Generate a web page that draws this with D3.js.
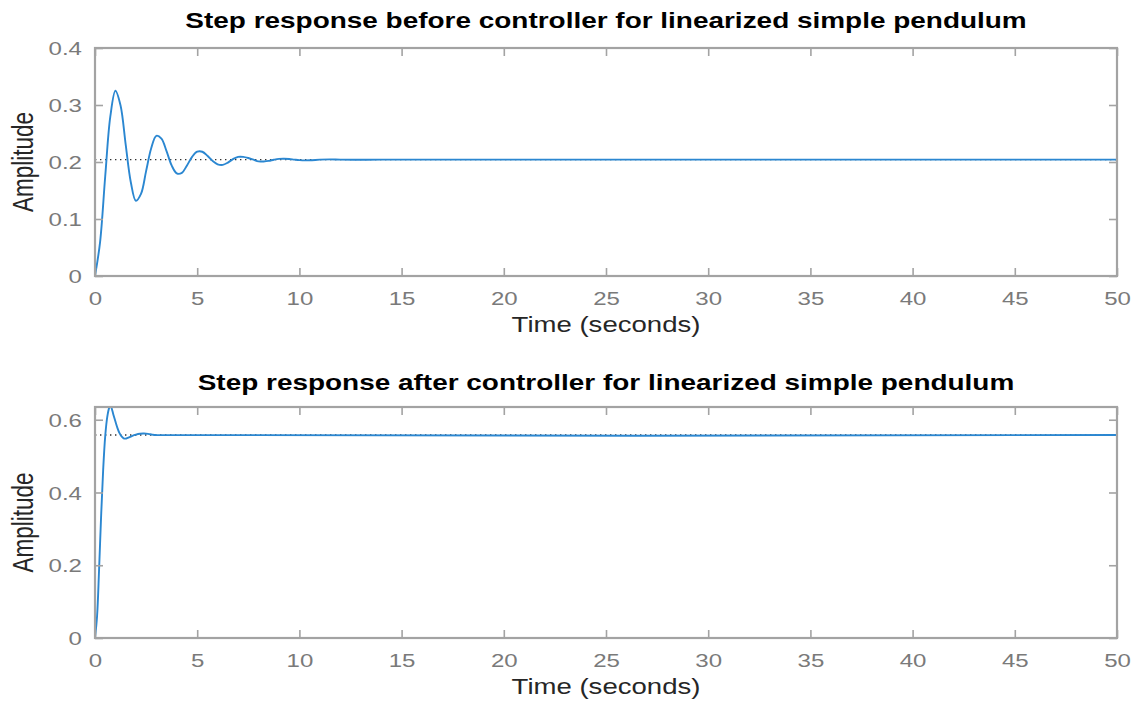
<!DOCTYPE html>
<html>
<head>
<meta charset="utf-8">
<script src="https://cdn.jsdelivr.net/npm/d3@7"></script>
<style>
  html, body { margin: 0; padding: 0; background: #fff; }
  svg { display: block; font-family: "Liberation Sans", Arial, Helvetica, sans-serif; }
</style>
</head>
<body>
<svg id="chart" width="1142" height="702"></svg>
<script>
// Step response of the linearized pendulum, open loop
const timeBefore = [0, 0.25, 0.5, 0.75, 1.0, 1.25, 1.5, 1.75, 2.0, 2.25, 2.5, 2.75, 3.0, 3.25, 3.5, 3.75,
  4.0, 4.25, 4.5, 4.75, 5.0, 5.25, 5.5, 5.75, 6.0, 6.25, 6.5, 6.75, 7.0, 7.25, 7.5, 7.75,
  8.0, 8.25, 8.5, 8.75, 9.0, 9.25, 9.5, 9.75, 10.0, 10.5, 11.0, 11.5, 12.0, 13.0, 14.0, 50.0];
const ampBefore = [0, 0.060, 0.175, 0.280, 0.325, 0.299, 0.231, 0.165, 0.132, 0.144, 0.184, 0.224, 0.246, 0.241, 0.219, 0.194,
  0.180, 0.181, 0.194, 0.209, 0.218, 0.218, 0.211, 0.202, 0.196, 0.195, 0.199, 0.205, 0.209, 0.209, 0.207, 0.204,
  0.201, 0.201, 0.202, 0.204, 0.2055, 0.2058, 0.2053, 0.2042, 0.2032, 0.2030, 0.2042, 0.2046, 0.2042, 0.2040, 0.2041, 0.2041];
const steadyBefore = 0.2041;

// Step response with the controller in the loop
const timeAfter = [0, 0.1, 0.2, 0.3, 0.4, 0.5, 0.6, 0.7, 0.75, 0.8, 0.9, 1.0, 1.1, 1.2, 1.3, 1.4, 1.5, 1.6,
  1.8, 2.0, 2.2, 2.4, 2.6, 2.8, 3.0, 50.0];
const ampAfter = [0, 0.059, 0.189, 0.336, 0.463, 0.555, 0.608, 0.634, 0.639, 0.634, 0.614, 0.595, 0.577, 0.563, 0.554, 0.549, 0.548, 0.550,
  0.555, 0.559, 0.5615, 0.562, 0.561, 0.559, 0.558, 0.558];
const steadyAfter = 0.558;

const timeTicks = [0, 5, 10, 15, 20, 25, 30, 35, 40, 45, 50];
const ampTicksBefore = [0, 0.1, 0.2, 0.3, 0.4];
const ampTicksAfter = [0, 0.2, 0.4, 0.6];

const titleBefore = "Step response before controller for linearized simple pendulum";
const titleAfter = "Step response after controller for linearized simple pendulum";

const svg = d3.select("#chart");
const SX = 1.3;            // horizontal text stretch of the figure
const frameColor = "#a3a3a3";
const tickTextColor = "#7a7a7a";
const labelColor = "#262626";
const lineColor = "#2b87d1";

function panel(opts) {
  const { left, right, top, bottom, yMax, t, a, steady, yTicks, title, titleGap, id } = opts;
  const x = d3.scaleLinear().domain([0, 50]).range([left, right]);
  const y = d3.scaleLinear().domain([0, yMax]).range([bottom, top]);
  const g = svg.append("g");

  g.append("clipPath").attr("id", id).append("rect")
    .attr("x", left).attr("y", top).attr("width", right - left).attr("height", bottom - top);

  // steady-state reference
  g.append("line")
    .attr("x1", x(0)).attr("x2", x(50)).attr("y1", y(steady)).attr("y2", y(steady))
    .attr("stroke", "#333").attr("stroke-width", 1.4).attr("stroke-dasharray", "1.4,3.6");

  const pts = t.map((d, i) => [d, a[i]]);
  const line = d3.line().x(d => x(d[0])).y(d => y(d[1])).curve(d3.curveCatmullRom.alpha(0.5));
  g.append("path").datum(pts)
    .attr("clip-path", `url(#${id})`)
    .attr("d", line).attr("fill", "none")
    .attr("stroke", lineColor).attr("stroke-width", 1.9).attr("stroke-linejoin", "round");

  const tick = 8;
  // bottom axis with inward ticks
  const xb = g.append("g").attr("transform", `translate(0,${bottom})`)
    .call(d3.axisBottom(x).tickValues(timeTicks).tickSize(-tick).tickFormat(d3.format("d")));
  xb.selectAll("text").attr("y", 0).attr("dy", null)
    .attr("transform", `translate(0,29) scale(${SX},1)`)
    .attr("fill", tickTextColor).style("font-size", "18.5px");
  // top axis ticks only
  g.append("g").attr("transform", `translate(0,${top})`)
    .call(d3.axisTop(x).tickValues(timeTicks).tickSize(-tick).tickFormat(""));
  // left axis
  const yl = g.append("g").attr("transform", `translate(${left},0)`)
    .call(d3.axisLeft(y).tickValues(yTicks).tickSize(-tick).tickFormat(d => d === 0 ? "0" : d3.format(".1f")(d)));
  yl.selectAll("text").attr("x", 0).attr("dy", "0.36em")
    .attr("transform", `translate(-13,0) scale(${SX},1)`)
    .attr("fill", tickTextColor).style("font-size", "18.5px");
  // right axis ticks only
  g.append("g").attr("transform", `translate(${right},0)`)
    .call(d3.axisRight(y).tickValues(yTicks).tickSize(-tick).tickFormat(""));

  g.selectAll(".domain").remove();
  g.selectAll(".tick line").attr("stroke", frameColor).attr("stroke-width", 1.6);

  // frame
  g.append("rect").attr("x", left).attr("y", top).attr("width", right - left).attr("height", bottom - top)
    .attr("fill", "none").attr("stroke", frameColor).attr("stroke-width", 2.2);

  // labels
  g.append("text").text(title)
    .attr("text-anchor", "middle")
    .attr("transform", `translate(${(left + right) / 2},${top - titleGap}) scale(${SX},1)`)
    .attr("fill", "#000").style("font-weight", "bold").style("font-size", "21.5px");
  g.append("text").text("Time (seconds)")
    .attr("text-anchor", "middle")
    .attr("transform", `translate(${(left + right) / 2},${bottom + 56}) scale(${SX},1)`)
    .attr("fill", labelColor).style("font-size", "21.2px");
  g.append("text").text("Amplitude")
    .attr("text-anchor", "middle")
    .attr("transform", `translate(33,${(top + bottom) / 2}) rotate(-90) scale(1,${SX})`)
    .attr("fill", labelColor).style("font-size", "22.5px");
}

panel({ left: 95, right: 1117, top: 48, bottom: 276, yMax: 0.4, t: timeBefore, a: ampBefore,
  steady: steadyBefore, yTicks: ampTicksBefore, title: titleBefore, titleGap: 20, id: "clipBefore" });
panel({ left: 95, right: 1117, top: 407, bottom: 638, yMax: 0.635, t: timeAfter, a: ampAfter,
  steady: steadyAfter, yTicks: ampTicksAfter, title: titleAfter, titleGap: 17, id: "clipAfter" });
</script>
</body>
</html>
